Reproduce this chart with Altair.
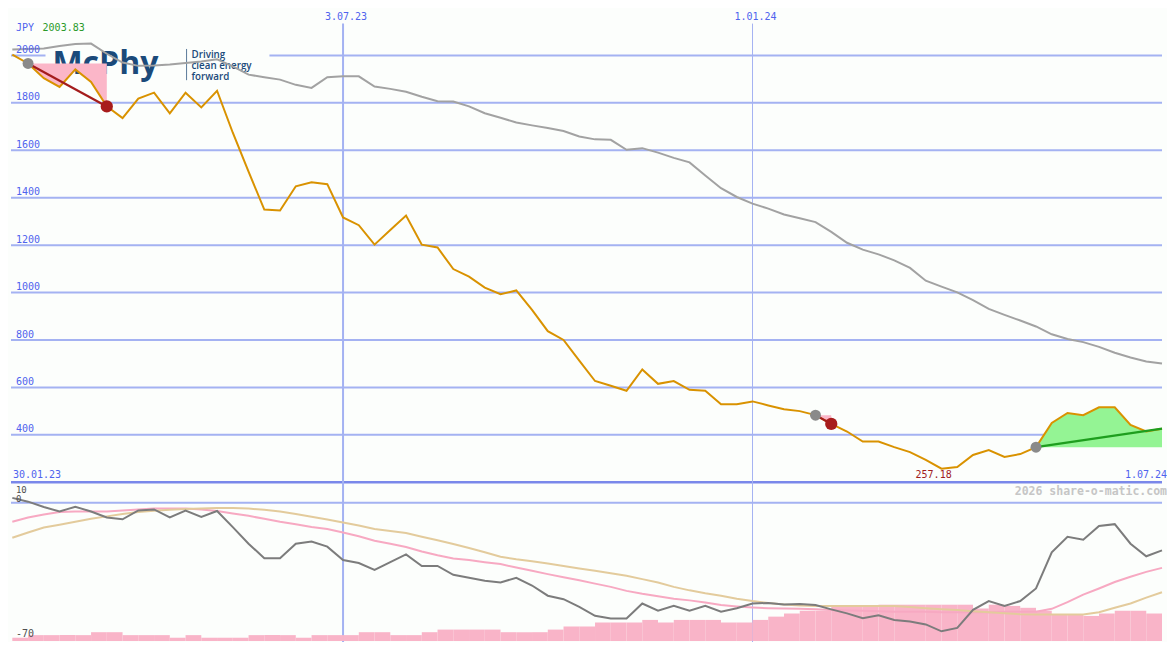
import altair as alt
import pandas as pd

W, H = 1159, 634
SX, SY = W / 1175.0, H / 650.0
BG = "#fcfefc"
MONO = "DejaVu Sans Mono"
BLUE_TXT = "#4f63ee"
GRID = "#a4b2f2"

# ---------------- data ----------------
dates = pd.date_range("2023-02-06", periods=74, freq="7D")
dstr = [d.strftime("%Y-%m-%dT00:00:00") for d in dates]
X_DOMAIN = ["2023-02-05T10:00:00", "2024-07-01T00:00:00"]

price = [2003.83, 1966, 1904, 1867, 1941, 1888, 1785, 1736, 1818, 1843,
         1756, 1843, 1781, 1851, 1674, 1510, 1350, 1346, 1448, 1465,
         1457, 1317, 1284, 1202, 1264, 1325, 1202, 1190, 1099, 1067,
         1021, 993, 1009, 927, 837, 800, 713, 627, 607, 586,
         676, 615, 627, 590, 586, 529, 529, 541, 524, 508,
         500, 483, 446, 414, 372, 372, 348, 327, 294, 257.18,
         264, 315, 336, 307, 319, 348, 450, 492, 483, 516,
         516, 442, 414, 426]

ma = [2025, 2027, 2029, 2040, 2048, 2050, 2007, 1970, 1956, 1958,
      1962, 1968, 1974, 1984, 1954, 1919, 1908, 1898, 1876, 1863,
      1908, 1912, 1912, 1869, 1859, 1847, 1826, 1807, 1806, 1785,
      1756, 1737, 1717, 1705, 1694, 1681, 1658, 1646, 1644, 1602,
      1609, 1590, 1568, 1549, 1494, 1440, 1403, 1375, 1354, 1329,
      1313, 1297, 1256, 1210, 1181, 1161, 1136, 1104, 1050, 1025,
      1001, 968, 931, 906, 882, 857, 824, 804, 791, 771,
      746, 726, 709, 701]

mom = [12.8, 10.6, 7.5, 4.9, 7.7, 4.9, 1.5, 0.4, 5.5, 6.1,
       1.5, 5.5, 1.8, 5.2, -4.1, -13.7, -22.1, -22.1, -13.7, -12.5,
       -15.4, -23.2, -24.9, -28.9, -24.4, -19.9, -26.6, -26.6, -31.7, -33.4,
       -35.1, -36.2, -33.4, -37.9, -43.8, -45.8, -50.3, -55.4, -57.0, -57.0,
       -48.3, -52.5, -49.7, -52.5, -49.7, -53.1, -51.1, -48.3, -48.0, -48.9,
       -48.6, -49.2, -51.7, -54.0, -56.8, -55.1, -57.8, -58.7, -60.4, -64.4,
       -62.4, -52.0, -46.9, -49.7, -46.9, -39.6, -18.7, -9.7, -11.4, -3.5,
       -2.4, -13.7, -21.0, -17.6]

sig_pink = [-1.0, 1.4, 3.2, 4.6, 4.9, 4.9, 4.9, 5.5, 6.1, 6.6,
            6.6, 6.6, 6.1, 5.2, 3.8, 2.4, 0.7, -1.0, -2.4, -4.1,
            -5.2, -7.2, -9.4, -12.0, -13.7, -15.6, -18.2, -20.4, -22.3, -23.2,
            -24.4, -25.5, -27.5, -29.4, -31.3, -33.1, -34.9, -36.8, -38.7, -41.0,
            -42.7, -44.1, -45.5, -46.5, -47.7, -49.2, -50.0, -50.6, -51.0, -51.2,
            -51.4, -51.7, -52.0, -52.3, -52.5, -52.8, -53.1, -53.1, -53.1, -53.4,
            -53.4, -53.4, -53.4, -53.1, -53.1, -53.1, -51.4, -47.5, -43.2, -39.6,
            -35.9, -32.8, -30.0, -27.7]

sig_tan = [-10.3, -7.2, -4.3, -2.7, -1.0, 0.7, 2.1, 3.5, 4.6, 5.3,
           5.9, 6.3, 6.7, 7.0, 7.0, 6.6, 5.9, 4.9, 3.5, 1.9,
           0.3, -1.5, -3.2, -5.2, -6.3, -7.5, -9.7, -11.7, -13.9, -16.2,
           -18.7, -21.3, -22.7, -23.8, -25.2, -26.6, -28.0, -29.4, -30.8, -32.3,
           -34.2, -36.2, -38.7, -40.7, -42.4, -43.8, -45.5, -46.9, -48.0, -48.9,
           -49.4, -49.7, -49.7, -49.7, -49.7, -49.7, -49.7, -50.3, -51.1, -51.7,
           -52.1, -52.8, -53.4, -53.9, -54.5, -54.6, -54.6, -54.6, -54.6, -53.4,
           -50.8, -48.3, -44.9, -41.8]

hist = [-68.1, -66.6, -66.6, -66.6, -66.6, -64.9, -64.9, -66.6, -66.6, -66.6,
        -68.1, -66.6, -68.1, -68.1, -68.1, -66.6, -66.6, -66.6, -68.1, -66.6,
        -66.6, -66.6, -64.9, -64.9, -66.6, -66.6, -64.9, -63.4, -63.4, -63.4,
        -63.4, -64.9, -64.9, -64.9, -63.4, -61.6, -61.6, -59.3, -59.3, -59.3,
        -57.8, -59.3, -57.8, -57.8, -57.8, -59.3, -59.3, -57.8, -55.9, -54.1,
        -52.5, -52.5, -49.7, -49.7, -49.7, -49.0, -49.0, -49.0, -49.0, -49.0,
        -49.0, -51.2, -49.0, -49.7, -50.8, -52.5, -54.6, -54.6, -55.5, -54.1,
        -52.5, -52.5, -54.1]

grid_levels = [400, 600, 800, 1000, 1200, 1400, 1600, 1800, 2000]
base_level = 200
ind_top = 10
ind_min = -70
trades = [(1, 6, "sell"), (51, 52, "sell"), (65, 73, "buy")]
vline_dates = ["2023-07-03T00:00:00", "2024-01-01T00:00:00"]
vline_labels = ["3.07.23", "1.01.24"]
vline_widths = [2, 1]
start_label, end_label = "30.01.23", "1.07.24"
min_label = "257.18"
max_label = "2003.83"
currency = "JPY"

# ---------------- scales ----------------
xs = alt.Scale(domain=X_DOMAIN)
yp = alt.Scale(domain=[-469.4, 2200])
yi = alt.Scale(domain=[-70, 296.2])


def X(f="d"):
    return alt.X(f + ":T", scale=xs, axis=None)


def YP(f):
    return alt.Y(f + ":Q", scale=yp, axis=None)


def YI(f):
    return alt.Y(f + ":Q", scale=yi, axis=None)


one = pd.DataFrame({"a": [0]})


def label(txt, x, y, color, size=10, align="left", weight="normal",
          font=MONO, style="normal"):
    return alt.Chart(one).mark_text(
        text=txt, align=align, baseline="middle", color=color, fontSize=size,
        font=font, fontWeight=weight, fontStyle=style
    ).encode(x=alt.value(x * SX), y=alt.value(y * SY))


df = pd.DataFrame({"d": dstr, "price": price, "ma": ma, "mom": mom,
                   "pink": sig_pink, "tan": sig_tan})
dfh = pd.DataFrame({"d": dstr[:-1], "d2": dstr[1:], "h": hist})

# ---------------- price panel ----------------
grid = alt.Chart(pd.DataFrame({"v": grid_levels})).mark_rule(
    color=GRID, strokeWidth=2).encode(y=YP("v"))
base = alt.Chart(pd.DataFrame({"v": [base_level]})).mark_rule(
    color="#7a88ea", strokeWidth=2.5).encode(y=YP("v"))
vdf = pd.DataFrame({"d": vline_dates, "t": vline_labels, "w": vline_widths})
vrules = alt.Chart(vdf).mark_rule(color=GRID).encode(
    x=X(), y=alt.value(16 * SY), y2=alt.value(H),
    strokeWidth=alt.StrokeWidth("w:Q", scale=None))
vtext = alt.Chart(vdf).mark_text(
    align="center", baseline="middle", color=BLUE_TXT, fontSize=10, font=MONO, dx=3
).encode(x=X(), y=alt.value(9 * SY), text="t:N")

ylab = alt.Chart(pd.DataFrame({"v": grid_levels, "t": [str(v) for v in grid_levels]})).mark_text(
    align="left", baseline="middle", color=BLUE_TXT, fontSize=10, font=MONO, dy=-5.5 * SY
).encode(x=alt.value(5 * SX), y=YP("v"), text="t:N")

logo_bg = alt.Chart(one).mark_rect(color=BG).encode(
    x=alt.value(35 * SX), x2=alt.value(262 * SX),
    y=alt.value(37 * SY), y2=alt.value(78 * SY))
logo_main = alt.Chart(one).mark_text(
    text="McPhy", align="left", baseline="alphabetic", color="#1b4a7a",
    fontSize=32, font="Open Sans", fontWeight="bold"
).encode(x=alt.value(42 * SX), y=alt.value(68 * SY))
logo_bar = alt.Chart(one).mark_rule(color="#5a7a9a", strokeWidth=1).encode(
    x=alt.value(178 * SX), y=alt.value(42 * SY), y2=alt.value(74 * SY))
logo_t1 = label("Driving", 183, 48.5, "#1b4a7a", 9.8, font="Open Sans", weight=600)
logo_t2 = label("clean energy", 183, 59.5, "#1b4a7a", 9.8, font="Open Sans", weight=600)
logo_t3 = label("forward", 183, 70.5, "#1b4a7a", 9.8, font="Open Sans", weight=600)

areas, tlines, gdots, rdots = [], [], [], []
for a, b, kind in trades:
    seg = pd.DataFrame({"d": dstr[a:b + 1], "price": price[a:b + 1],
                        "entry": [price[a]] * (b - a + 1)})
    col = "#fbb6c8" if kind == "sell" else "#94f494"
    areas.append(alt.Chart(seg).mark_area(color=col, opacity=1).encode(
        x=X(), y=YP("price"), y2="entry:Q"))
    tl = pd.DataFrame({"d": [dstr[a], dstr[b]], "v": [price[a], price[b]]})
    lc = "#a41c1c" if kind == "sell" else "#1e9e1e"
    tlines.append(alt.Chart(tl).mark_line(color=lc, strokeWidth=2.2).encode(
        x=X(), y=YP("v")))
    gdots.append({"d": dstr[a], "v": price[a]})
    if kind == "sell":
        rdots.append({"d": dstr[b], "v": price[b]})

ma_line = alt.Chart(df).mark_line(color="#a2a2a2", strokeWidth=2).encode(
    x=X(), y=YP("ma"))
price_line = alt.Chart(df).mark_line(color="#d99200", strokeWidth=2).encode(
    x=X(), y=YP("price"))
gdot = alt.Chart(pd.DataFrame(gdots)).mark_circle(
    color="#8a8a8a", opacity=1, size=120).encode(x=X(), y=YP("v"))
rdot = alt.Chart(pd.DataFrame(rdots)).mark_circle(
    color="#a81c1c", opacity=1, size=150).encode(x=X(), y=YP("v"))

imin = price.index(min(price))
minlab = alt.Chart(pd.DataFrame({"d": [dstr[imin]], "t": [min_label]})).mark_text(
    align="center", baseline="middle", color="#a01c1c", fontSize=10, font=MONO, dx=-8 * SX
).encode(x=X(), y=alt.value(479 * SY), text="t:N")

price_group = alt.layer(
    grid, base, vrules, logo_bg, logo_main, logo_bar, logo_t1, logo_t2, logo_t3,
    *areas, ma_line, price_line, *tlines, gdot, rdot,
    ylab, vtext, minlab,
    label(currency, 5, 21, BLUE_TXT),
    label(max_label, 32, 21, "#2a9a2a"),
    label(start_label, 2, 479, BLUE_TXT),
    label(end_label, 1172, 479, BLUE_TXT, align="right"),
    label("2026 share-o-matic.com", 1172, 496, "#c6c6c6", size=11.5,
          align="right", weight="bold"),
)

# ---------------- indicator panel ----------------
irule = alt.Chart(pd.DataFrame({"v": [ind_top]})).mark_rule(
    color=GRID, strokeWidth=2).encode(y=YI("v"))
bars = alt.Chart(dfh).mark_rect(color="#f9b4c8").encode(
    x=X(), x2="d2:T", y=YI("h"), y2=alt.datum(ind_min))
pink_line = alt.Chart(df).mark_line(color="#f7a9c2", strokeWidth=2).encode(
    x=X(), y=YI("pink"))
tan_line = alt.Chart(df).mark_line(color="#e3cb9c", strokeWidth=2).encode(
    x=X(), y=YI("tan"))
mom_line = alt.Chart(df).mark_line(color="#7c7c7c", strokeWidth=2).encode(
    x=X(), y=YI("mom"))

ind_group = alt.layer(
    irule, bars, pink_line, tan_line, mom_line,
    label(str(ind_top), 5, 494, "#505050", size=9),
    label("0", 5, 503.5, "#505050", size=9),
    label(str(ind_min), 5, 642, "#505050"),
)

chart = alt.layer(price_group, ind_group).resolve_scale(
    y="independent"
).properties(
    width=W, height=H,
    autosize=alt.AutoSizeParams(type="fit", contains="padding"),
    padding=0, background=BG,
).configure_view(stroke=None)

chart.save("out.html", embed_options={"renderer": "svg", "actions": False})
